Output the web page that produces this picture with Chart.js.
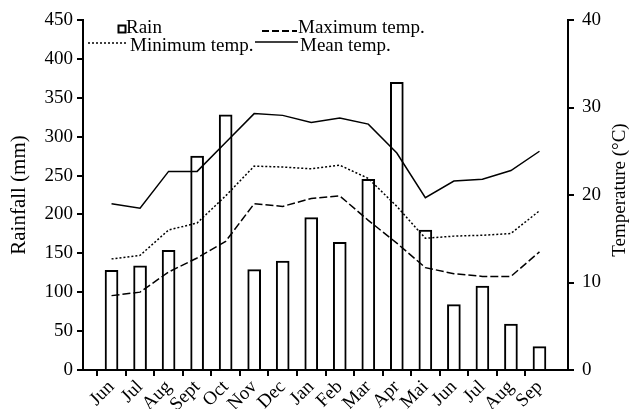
<!DOCTYPE html>
<html>
<head>
<meta charset="utf-8">
<script src="https://cdn.jsdelivr.net/npm/chart.js@4"></script>
<style>
  html, body { margin:0; padding:0; background:#fff; }
  #wrap { width:629px; height:409px; }
</style>
</head>
<body>
<div id="wrap"><canvas id="climateChart" width="629" height="409"></canvas></div>
<script>

// data

const months = ['Jun','Jul','Aug','Sept','Oct','Nov','Dec','Jan','Feb','Mar','Apr','Mai','Jun','Jul','Aug','Sep'];

const rain = [128,134,154,275,328,129,140,196,164,245,370,180,84,108,59,30];

const maxTemp = [8.5,8.9,11.2,12.8,14.7,19.0,18.7,19.6,19.9,17.1,14.5,11.7,11.0,10.7,10.7,13.5];

const minTemp = [12.7,13.1,16.0,16.8,19.9,23.3,23.2,23.0,23.4,21.9,18.7,15.05,15.3,15.4,15.6,18.2];

const meanTemp = [19.0,18.5,22.7,22.7,26.0,29.3,29.1,28.3,28.8,28.1,24.8,19.7,21.6,21.8,22.8,25.0];

const rainTicks = {min:0, max:450, step:50};
const tempTicks = {min:0, max:40, step:10};

// one empty slot each side so the first and last month sit a step in from the axes
const pad = arr => [null, ...arr, null];

const FONT = '"Liberation Serif", "Times New Roman", serif';

const overlay = {

  id:'overlay',

  afterDraw(chart){

    const ctx = chart.ctx;

    ctx.save();
    ctx.fillStyle = '#000';
    ctx.strokeStyle = '#000';
    ctx.font = '19px ' + FONT;
    ctx.textBaseline = 'middle';
    ctx.textAlign = 'left';

    // legend, row 1
    ctx.lineWidth = 2;
    ctx.setLineDash([]);
    ctx.strokeRect(118.5, 25.5, 7, 7);
    ctx.fillText('Rain', 126, 28);

    ctx.setLineDash([7,3]);
    ctx.beginPath();
    ctx.moveTo(262, 31);
    ctx.lineTo(297, 31);
    ctx.stroke();
    ctx.fillText('Maximum temp.', 298, 28);

    // legend, row 2
    ctx.lineWidth = 1.5;
    ctx.setLineDash([2,2]);
    ctx.beginPath();
    ctx.moveTo(88, 43);
    ctx.lineTo(128, 43);
    ctx.stroke();
    ctx.fillText('Minimum temp.', 130, 46);

    ctx.setLineDash([]);
    ctx.beginPath();
    ctx.moveTo(255, 42);
    ctx.lineTo(298, 42);
    ctx.stroke();
    ctx.fillText('Mean temp.', 300, 46);

    // axis titles
    ctx.textAlign = 'center';

    ctx.save();
    ctx.font = '21px ' + FONT;
    ctx.translate(19, 195);
    ctx.rotate(-Math.PI/2);
    ctx.fillText('Rainfall (mm)', 0, 0);
    ctx.restore();

    ctx.save();
    ctx.translate(620, 190);
    ctx.rotate(-Math.PI/2);
    ctx.fillText('Temperature (°C)', 0, 0);
    ctx.restore();

    ctx.restore();

  }

};

function lineSet(label, data, dash, order){

  return {
    type:'line',
    label:label,
    data:pad(data),
    yAxisID:'y1',
    borderColor:'#000',
    borderWidth:1.5,
    borderDash:dash,
    pointRadius:0,
    tension:0,
    fill:false,
    order:order
  };

}

const axisTicks = {
  color:'#000',
  font:{family:FONT, size:19}
};

new Chart(

  document.getElementById('climateChart'),

  {

    data:{

      labels:pad(months).map(m => m || ''),

      datasets:[

        {
          type:'bar',
          label:'Rain',
          data:pad(rain),
          yAxisID:'y',
          backgroundColor:'#fff',
          borderColor:'#000',
          borderWidth:2,
          barThickness:13,
          order:5
        },

        lineSet('Maximum temp.', maxTemp, [8,3], 1),
        lineSet('Minimum temp.', minTemp, [2,2], 1),
        lineSet('Mean temp.', meanTemp, [], 1)

      ]

    },

    options:{

      responsive:false,
      animation:false,

      layout:{
        padding:{top:20, left:0, right:0, bottom:0}
      },

      plugins:{
        legend:{display:false},
        tooltip:{enabled:false}
      },

      scales:{

        x:{
          offset:false,
          grid:{
            drawOnChartArea:false,
            drawTicks:true,
            tickLength:6,
            lineWidth:2,
            color:ctx => (ctx.index === 0 || ctx.index === months.length + 1) ? 'rgba(0,0,0,0)' : '#000'
          },
          border:{display:true, color:'#000', width:2},
          ticks:{
            ...axisTicks,
            autoSkip:false,
            minRotation:45,
            maxRotation:45,
            padding:0
          },
          afterFit(scale){ scale.height = 39; }
        },

        y:{
          position:'left',
          min:rainTicks.min,
          max:rainTicks.max,
          grid:{
            drawOnChartArea:false,
            tickLength:6,
            lineWidth:2,
            color:'#000'
          },
          border:{display:true, color:'#000', width:2},
          ticks:{
            ...axisTicks,
            stepSize:rainTicks.step,
            padding:4
          },
          afterFit(scale){ scale.width = 83; }
        },

        y1:{
          position:'right',
          min:tempTicks.min,
          max:tempTicks.max,
          grid:{
            drawOnChartArea:false,
            tickLength:6,
            lineWidth:2,
            color:'#000'
          },
          border:{display:true, color:'#000', width:2},
          ticks:{
            ...axisTicks,
            stepSize:tempTicks.step,
            padding:8
          },
          afterFit(scale){ scale.width = 61; }
        }

      }

    },

    plugins:[overlay]

  }

);

</script>
</body>
</html>
